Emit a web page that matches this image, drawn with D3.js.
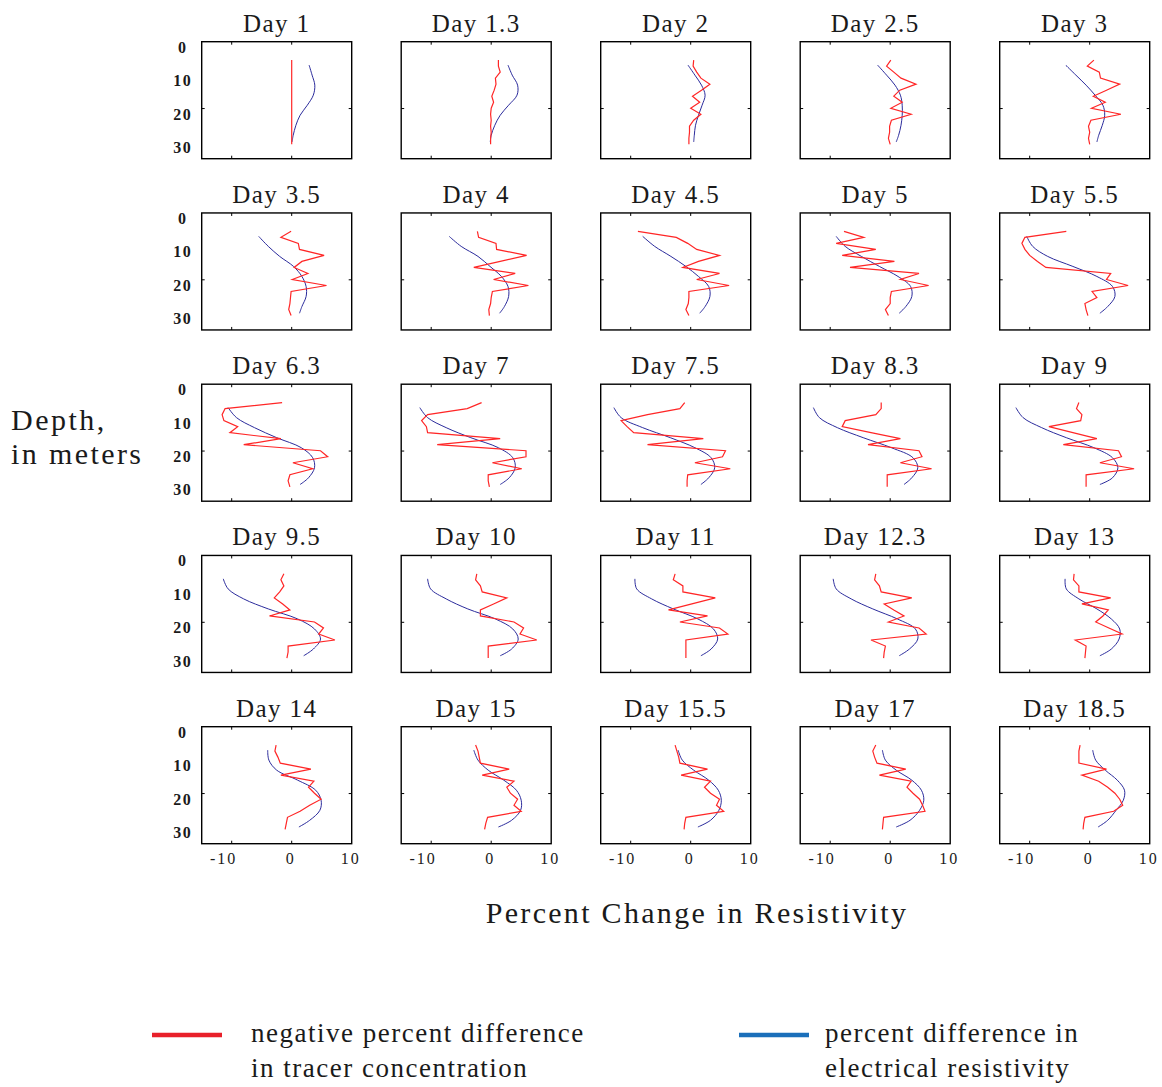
<!DOCTYPE html>
<html>
<head>
<meta charset="utf-8">
<script src="https://cdn.jsdelivr.net/npm/d3@7"></script>
<style>
  body { margin: 0; background: #fff; }
  svg { display: block; }
  text { font-family: "Liberation Serif", "Times New Roman", serif; fill: #1a1a1a; }
</style>
</head>
<body>
<div id="chart"></div>
<script>
const days = ["Day 1", "Day 1.3", "Day 2", "Day 2.5", "Day 3",
  "Day 3.5", "Day 4", "Day 4.5", "Day 5", "Day 5.5",
  "Day 6.3", "Day 7", "Day 7.5", "Day 8.3", "Day 9",
  "Day 9.5", "Day 10", "Day 11", "Day 12.3", "Day 13",
  "Day 14", "Day 15", "Day 15.5", "Day 17", "Day 18.5"];

// depths (m) of the tracer samples and of the resistivity profile points
const tracerDepths = [5.5, 7.3, 9.1, 10.9, 12.7, 14.5, 16.3, 18.1, 19.9, 21.7, 23.5, 25.3, 27.1, 28.9, 30.7];
const resistDepths = [7, 10, 13, 16, 19, 22, 25, 28, 30];

// negative percent difference in tracer concentration, one row per day
const tracerChange = [
  [0, 0, 0, 0, 0, 0, 0, 0, 0, 0, 0, 0, 0, 0, 0],
  [1.2, 1.2, 1.5, 0.7, 0.8, 0.5, 0.1, 0.4, 0.0, -0.1, 0.0, -0.1, 0.0, -0.1, -0.1],
  [0.5, 0.4, 1.0, 1.7, 3.2, 1.8, 0.3, 1.5, 0.0, 1.7, 0.5, -0.2, -0.2, -0.3, -0.3],
  [0.1, -0.6, 0.6, 1.8, 4.3, 1.6, 0.6, 2.0, 0.1, 3.5, 0.2, -0.1, -0.1, -0.3, 0.0],
  [0.7, -0.4, 1.6, 1.8, 5.0, 2.8, 0.6, 2.6, 0.3, 5.2, 0.2, -0.2, 0.0, -0.2, 0.0],
  [-0.1, -1.8, 1.1, 1.3, 5.4, 1.7, 0.4, 2.7, 0.1, 5.8, -0.1, -0.2, -0.3, -0.5, -0.1],
  [-2.3, -2.1, 0.8, 0.9, 5.9, 1.5, -2.9, 4.0, 0.4, 6.2, 0.2, 0.0, -0.1, -0.4, -0.3],
  [-8.8, -2.4, -0.5, 1.0, 4.8, 1.3, -1.3, 4.8, 1.0, 6.4, -0.3, -0.3, -0.4, -0.8, -0.3],
  [-7.7, -4.4, -9.0, -2.4, -8.0, 0.7, -6.7, 4.8, 1.7, 6.4, 0.2, 0.0, 0.0, -0.8, -0.3],
  [-3.9, -10.8, -11.3, -10.8, -10.0, -8.7, -7.3, 3.5, 2.8, 6.4, 0.4, 1.2, -0.8, -0.6, -0.3],
  [-1.6, -11.1, -11.6, -11.3, -9.0, -10.3, -1.8, -8.0, 4.8, 6.0, 0.2, 3.5, -0.3, -0.6, -0.3],
  [-1.6, -4.0, -10.6, -11.6, -10.8, -10.6, 1.5, -9.0, 5.8, 5.8, 0.2, 5.1, -0.5, -0.5, -0.3],
  [-1.0, -1.8, -7.2, -11.6, -10.6, -9.5, 2.1, -7.2, 5.8, 5.3, 0.7, 6.6, -0.5, -0.6, -0.6],
  [-1.5, -1.5, -2.4, -7.5, -8.0, -3.2, 1.7, -3.7, 4.8, 5.3, 1.7, 6.9, -0.5, -0.5, -0.5],
  [-1.8, -2.2, -1.3, -1.5, -6.8, -2.8, 1.2, -4.4, 4.8, 5.3, 1.7, 7.4, -0.6, -0.6, -0.6],
  [-1.3, -1.8, -1.3, -2.0, -2.9, -1.5, -0.3, -3.7, 3.8, 5.3, 4.5, 7.2, -0.6, -0.6, -0.8],
  [-2.4, -2.6, -1.8, -1.5, 2.6, 0.4, -1.8, -1.8, 3.8, 5.4, 4.8, 7.6, -0.5, -0.5, -0.5],
  [-2.6, -2.9, -1.3, -1.3, 4.1, 0.2, -3.7, 2.8, -1.8, 4.8, 6.2, -0.8, -0.8, -0.8, -0.8],
  [-2.4, -2.6, -1.8, -1.5, 3.6, -1.0, 0.6, 2.3, -0.3, 4.8, 6.0, -3.2, -0.8, -1.0, -1.1],
  [-2.6, -2.7, -1.8, -1.8, 3.5, -1.3, 3.1, 2.2, 1.0, 3.2, 5.4, -2.4, -0.6, -0.7, -0.8],
  [-2.6, -2.8, -2.3, -1.9, 3.2, -1.8, 3.7, 2.8, 3.8, 4.9, 3.0, 1.4, -0.7, -0.9, -1.1],
  [-2.6, -2.2, -2.0, -1.8, 3.0, -1.5, 3.8, 2.6, 3.2, 4.4, 3.8, 5.0, -0.6, -0.9, -1.1],
  [-2.6, -2.3, -2.0, -1.8, 2.8, -1.6, 3.3, 2.3, 3.3, 4.8, 4.3, 5.5, -0.8, -1.0, -1.1],
  [-2.4, -2.9, -2.6, -2.2, 2.6, -1.8, 3.5, 2.8, 3.8, 4.9, 5.4, 5.8, -1.1, -1.2, -1.3],
  [-1.6, -1.8, -1.8, -1.8, 2.8, -1.3, 1.5, 3.0, 4.2, 5.0, 5.5, 4.0, -0.8, -1.0, -1.1]
];

// percent difference in electrical resistivity, one row per day
const resistChange = [
  [2.9, 3.4, 3.85, 3.6, 2.6, 1.4, 0.7, 0.25, 0.05],
  [2.8, 3.5, 4.4, 4.3, 2.9, 1.5, 0.6, 0.0, -0.15],
  [-0.45, 0.7, 1.8, 2.4, 1.9, 1.3, 0.8, 0.6, 0.5],
  [-2.1, -0.6, 0.8, 1.7, 2.0, 2.0, 1.8, 1.4, 1.0],
  [-4.0, -2.3, -0.6, 0.9, 2.2, 2.5, 2.1, 1.5, 1.2],
  [-5.5, -3.9, -2.0, 0.3, 1.7, 2.4, 2.4, 1.7, 1.3],
  [-7.0, -5.0, -2.2, -0.2, 1.7, 2.8, 2.9, 2.2, 1.4],
  [-8.0, -6.0, -3.3, -0.8, 1.3, 3.0, 3.2, 2.4, 1.5],
  [-9.0, -7.5, -4.8, -1.8, 1.3, 3.4, 3.6, 2.6, 1.5],
  [-10.5, -9.5, -7.0, -2.8, 1.2, 3.8, 4.2, 3.0, 1.7],
  [-10.6, -9.2, -6.2, -2.5, 1.6, 3.5, 3.8, 2.8, 1.4],
  [-11.9, -10.6, -7.5, -3.4, 1.2, 3.6, 4.0, 3.0, 1.5],
  [-12.8, -11.6, -8.0, -3.4, 0.7, 3.4, 4.0, 3.0, 1.7],
  [-12.8, -11.8, -8.8, -4.5, 0.2, 3.8, 4.6, 3.6, 2.3],
  [-12.3, -11.1, -8.0, -3.9, 0.7, 3.8, 4.7, 3.8, 1.7],
  [-11.4, -10.6, -8.0, -3.9, 1.0, 3.8, 4.8, 3.6, 2.0],
  [-10.6, -10.1, -7.5, -3.9, 0.7, 3.6, 4.5, 3.4, 1.5],
  [-9.3, -9.0, -6.5, -2.9, 1.2, 3.8, 4.5, 3.4, 1.7],
  [-9.5, -9.0, -6.5, -2.9, 1.2, 4.2, 4.6, 3.2, 1.5],
  [-4.1, -3.9, -1.8, 1.2, 3.6, 5.0, 4.9, 3.6, 1.7],
  [-4.0, -3.8, -2.5, 1.0, 4.0, 4.9, 4.7, 3.0, 1.2],
  [-2.9, -2.2, -0.5, 2.1, 4.2, 5.0, 4.9, 3.4, 1.2],
  [-2.1, -1.4, 0.5, 3.0, 4.6, 5.1, 4.7, 3.3, 1.2],
  [-1.3, -0.8, 1.0, 3.6, 5.2, 5.6, 4.9, 3.3, 1.0],
  [0.5, 1.0, 2.6, 4.6, 5.8, 5.6, 4.4, 3.0, 1.4]
];

const depthLabels = [0, 10, 20, 30];
const xLabels = [-10, 0, 10];
const xTickMarks = [-10, 0];
const yTickMarks = [20];

const width = 1162, height = 1087;
const panelW = 150, panelH = 117;
const ncol = 5;

const svg = d3.select("#chart").append("svg")
  .attr("width", width)
  .attr("height", height);

const x = d3.scaleLinear().domain([-15, 10]).range([0, panelW]);
const y = d3.scaleLinear().domain([0, 35]).range([0, panelH]);

const tracerLine = d3.line()
  .x(d => x(d[1]))
  .y(d => y(d[0]));

const resistLine = d3.line()
  .x(d => x(d[1]))
  .y(d => y(d[0]))
  .curve(d3.curveCatmullRom.alpha(0.5));

days.forEach((day, i) => {
  const col = i % ncol;
  const row = Math.floor(i / ncol);
  const left = 201.7 + col * 199.5;
  const top = 41.7 + row * 171.25;

  const g = svg.append("g").attr("transform", `translate(${left},${top})`);

  g.append("text")
    .attr("x", panelW / 2)
    .attr("y", -10)
    .attr("text-anchor", "middle")
    .style("font-size", "25px")
    .style("letter-spacing", "1.4px")
    .text(day);

  g.append("path")
    .datum(resistDepths.map((d, k) => [d, resistChange[i][k]]))
    .attr("d", resistLine)
    .attr("fill", "none")
    .attr("stroke", "#2b2b9c")
    .attr("stroke-width", 1);

  g.append("path")
    .datum(tracerDepths.map((d, k) => [d, tracerChange[i][k]]))
    .attr("d", tracerLine)
    .attr("fill", "none")
    .attr("stroke", "#ff2626")
    .attr("stroke-width", 1.2)
    .attr("stroke-linejoin", "miter");

  // frame and inward ticks
  g.append("rect")
    .attr("width", panelW)
    .attr("height", panelH)
    .attr("fill", "none")
    .attr("stroke", "#000")
    .attr("stroke-width", 1.4);

  xTickMarks.forEach(t => {
    g.append("line").attr("x1", x(t)).attr("x2", x(t)).attr("y1", 0).attr("y2", 3).attr("stroke", "#000");
    g.append("line").attr("x1", x(t)).attr("x2", x(t)).attr("y1", panelH).attr("y2", panelH - 3).attr("stroke", "#000");
  });
  yTickMarks.forEach(t => {
    g.append("line").attr("x1", 0).attr("x2", 3).attr("y1", y(t)).attr("y2", y(t)).attr("stroke", "#000");
    g.append("line").attr("x1", panelW).attr("x2", panelW - 3).attr("y1", y(t)).attr("y2", y(t)).attr("stroke", "#000");
  });

  if (col === 0) {
    g.selectAll(".dl")
      .data(depthLabels)
      .enter().append("text")
      .attr("x", -19)
      .attr("y", d => y(d) + 11)
      .attr("text-anchor", "middle")
      .style("font-size", "16px")
      .style("font-weight", "bold")
      .style("letter-spacing", "1.5px")
      .text(d => d);
  }

  if (row === 4) {
    g.selectAll(".xl")
      .data(xLabels)
      .enter().append("text")
      .attr("x", d => x(d) - (d < 0 ? 8 : 1))
      .attr("y", panelH + 20)
      .attr("text-anchor", "middle")
      .style("font-size", "16px")
      .style("letter-spacing", "2px")
      .text(d => d < 0 ? "-" + Math.abs(d) : d);
  }
});

// axis titles
svg.append("text")
  .attr("x", 11).attr("y", 430)
  .style("font-size", "30px")
  .style("letter-spacing", "2.5px")
  .text("Depth,");
svg.append("text")
  .attr("x", 11).attr("y", 464)
  .style("font-size", "30px")
  .style("letter-spacing", "2.4px")
  .text("in meters");

svg.append("text")
  .attr("x", 697).attr("y", 923)
  .attr("text-anchor", "middle")
  .style("font-size", "30px")
  .style("letter-spacing", "2.3px")
  .text("Percent Change in Resistivity");

// legend
const legendItems = [
  { color: "#e8202a", x: 152, lines: ["negative percent difference", "in tracer concentration"] },
  { color: "#1b6fba", x: 739, lines: ["percent difference in", "electrical resistivity"] }
];

const legend = svg.selectAll(".legend-item")
  .data(legendItems)
  .enter().append("g")
  .attr("class", "legend-item");

legend.append("line")
  .attr("x1", d => d.x)
  .attr("x2", d => d.x + 70)
  .attr("y1", 1035)
  .attr("y2", 1035)
  .attr("stroke", d => d.color)
  .attr("stroke-width", 4.5);

legend.each(function (d) {
  d3.select(this).selectAll("text")
    .data(d.lines)
    .enter().append("text")
    .attr("x", d.x + 99 - (d.x > 500 ? 13 : 0))
    .attr("y", (t, k) => 1042 + k * 35)
    .style("font-size", "27px")
    .style("letter-spacing", "1.5px")
    .text(t => t);
});
</script>
</body>
</html>
